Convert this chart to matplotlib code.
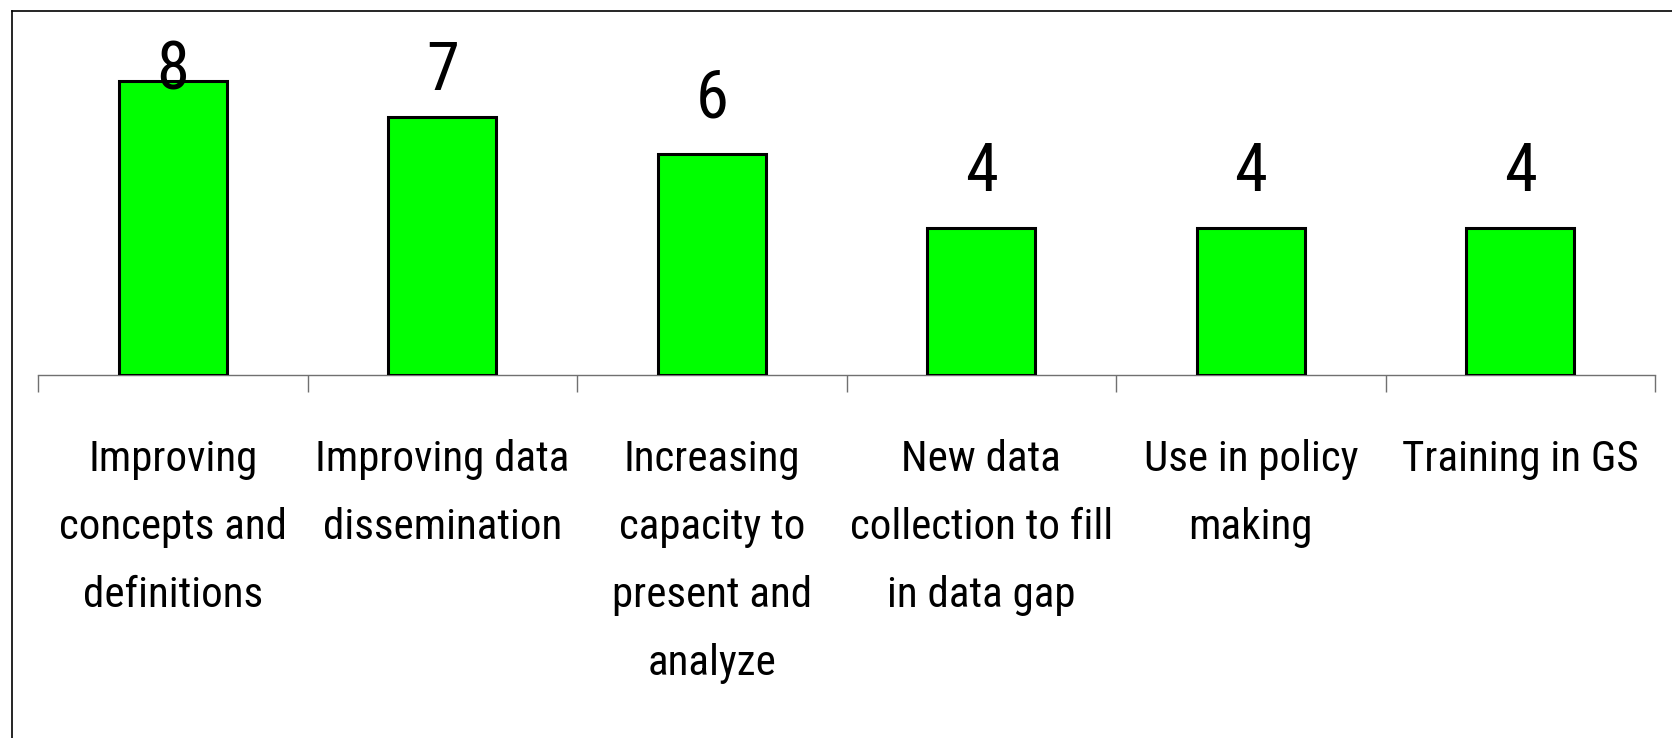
import matplotlib
matplotlib.use('Agg')
import matplotlib.pyplot as plt
from matplotlib import font_manager
from matplotlib.lines import Line2D

categories = ['Improving\nconcepts and\ndefinitions',
              'Improving data\ndissemination',
              'Increasing\ncapacity to\npresent and\nanalyze',
              'New data\ncollection to fill\nin data gap',
              'Use in policy\nmaking',
              'Training in GS']
counts = [8, 7, 6, 4, 4, 4]

# pick a narrow face if one is installed
names = set(f.name for f in font_manager.fontManager.ttflist)
family = 'Liberation Sans'
for cand in ['Liberation Sans Narrow', 'Roboto Condensed', 'Open Sans Condensed']:
    if cand in names:
        family = cand
        break
plt.rcParams['font.family'] = [family, 'DejaVu Sans']

fig = plt.figure(figsize=(16.72, 7.38), dpi=100)
ax = fig.add_axes([38 / 1672, 363 / 738, (1655 - 38) / 1672, 368 / 738])

x = list(range(len(counts)))
ax.bar(x, counts, width=0.40, color='#00ff00', edgecolor='black', linewidth=2.2, zorder=3)

for xi, v in zip(x, counts):
    ax.text(xi, min(v + 1.0, 7.75), str(v), ha='center', va='baseline',
            fontsize=48, zorder=4)

ax.set_xlim(-0.5, len(counts) - 0.5)
ax.set_ylim(0, 10)
ax.set_xticks(x)
ax.set_xticklabels(categories, fontsize=31, linespacing=1.84)
ax.set_xticks([i - 0.5 for i in range(len(counts) + 1)], minor=True)
ax.tick_params(axis='x', which='major', length=0, pad=46)
ax.tick_params(axis='x', which='minor', length=12, width=1, color='#707070', direction='out')
ax.set_yticks([])
for s in ['top', 'right', 'left']:
    ax.spines[s].set_visible(False)
ax.spines['bottom'].set_color('#707070')
ax.spines['bottom'].set_linewidth(1)

# chart area border
fig.add_artist(Line2D([12 / 1672, 1], [1 - 10.5 / 738, 1 - 10.5 / 738],
                      transform=fig.transFigure, color='black', linewidth=1.2))
fig.add_artist(Line2D([12 / 1672, 12 / 1672], [0, 1 - 10.5 / 738],
                      transform=fig.transFigure, color='black', linewidth=1.2))

fig.savefig('out.png', dpi=100)
